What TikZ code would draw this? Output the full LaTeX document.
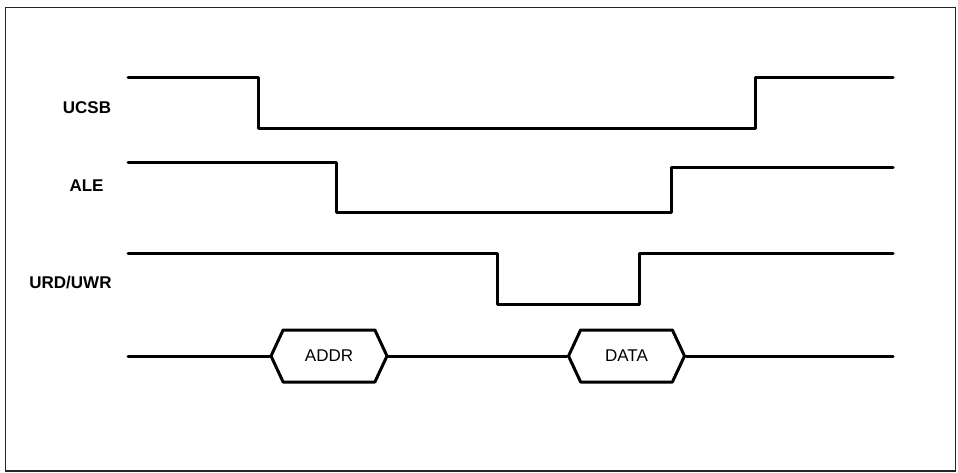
\documentclass[tikz,border=0pt]{standalone}
\usepackage{fontspec}
\setmainfont{Liberation Sans}
\usetikzlibrary{shapes.symbols}

\begin{document}
\begin{tikzpicture}[x=1pt,y=-1pt,
    sig/.style={line width=3pt,line cap=round,line join=round},
    lbl/.style={font=\fontsize{17}{20}\selectfont\bfseries,inner sep=0pt},
    bus/.style={draw,line width=3pt,line join=round,signal,signal to=east and west,
        signal pointer angle=130,minimum width=116pt,minimum height=52pt,
        inner sep=0pt,font=\fontsize{17}{20}\selectfont}]
    \useasboundingbox (0,0) rectangle (958,473);
    \draw[line width=1.2pt,black!85] (5.5,7.5) rectangle (955.5,471);

    % labels
    \node[lbl] (ucsb) at (87,108) {UCSB};
    \node[lbl] (ale) at (86.5,186) {ALE};
    \node[lbl] (urd) at (70.5,283) {URD/UWR};

    % signals
    \draw[sig] (128,78) -- (258,78) -- (258,129) -- (755,129) -- (755,78) -- (893,78);
    \draw[sig] (128,163) -- (336,163) -- (336,213) -- (671,213) -- (671,168) -- (893,168);
    \draw[sig] (128,253) -- (497,253) -- (497,304) -- (639,304) -- (639,253) -- (893,253);

    % bus
    \node[bus] (addr) at (329,356) {ADDR};
    \node[bus] (data) at (626.5,356) {DATA};
    \coordinate (busin) at (128,356);
    \coordinate (busout) at (893,356);
    \draw[sig] (busin) -- (addr.west);
    \draw[sig] (addr.east) -- (data.west);
    \draw[sig] (data.east) -- (busout);
\end{tikzpicture}
\end{document}
